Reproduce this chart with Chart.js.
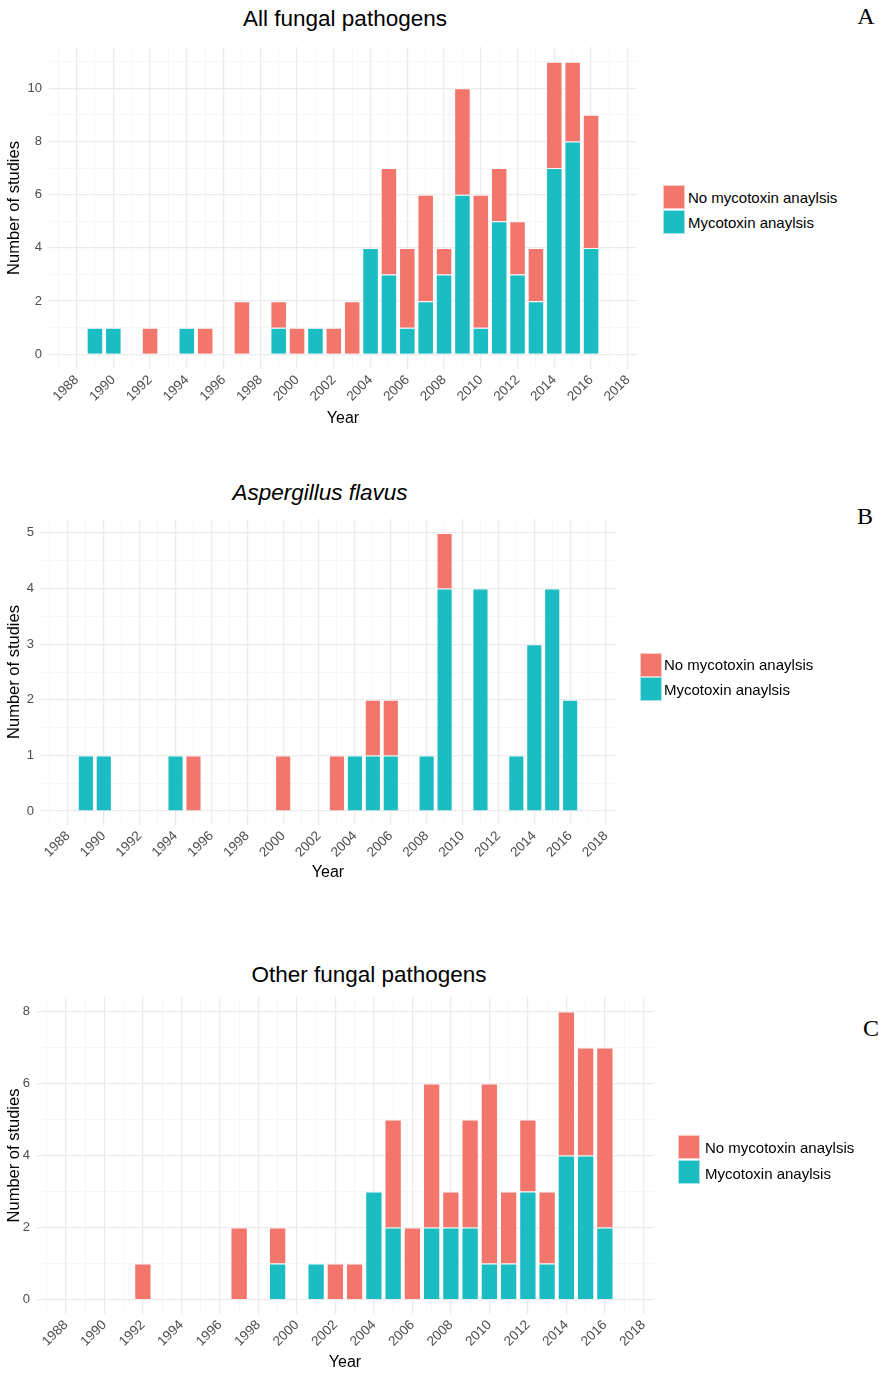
<!DOCTYPE html>
<html>
<head>
<meta charset="utf-8">
<script src="https://cdn.jsdelivr.net/npm/chart.js@4.4.1/dist/chart.umd.min.js"></script>
<style>
  body { margin: 0; background: #fff; }
  #page { position: relative; width: 883px; height: 1373px; background: #fff; font-family: "Liberation Sans", Arial, sans-serif; }
  canvas { position: absolute; left: 0; }
  .title { position: absolute; font-size: 22.5px; color: #000; white-space: nowrap; transform: translate(-50%, -50%); }
  .letter { position: absolute; font-family: "Liberation Serif", "DejaVu Serif", serif; font-size: 24px; color: #000; transform: translate(-50%, -50%); }
  .key { position: absolute; width: 22px; height: 24px; box-sizing: border-box; border: 1px solid rgba(255,255,255,0.6); }
  .keytext { position: absolute; font-size: 15px; color: #000; white-space: nowrap; transform: translateY(-50%); }
</style>
</head>
<body>
<div id="page">
  <div class="title" style="left:345px; top:19px;">All fungal pathogens</div>
  <div class="letter" style="left:866px; top:16px;">A</div>
  <canvas id="chartA" width="660" height="432" style="top:0px;"></canvas>
  <div class="key" style="left:663px; top:185px; background:#F2766C;"></div>
  <div class="key" style="left:663px; top:210px; background:#1BBCC2;"></div>
  <div class="keytext" style="left:688px; top:197px;">No mycotoxin anaylsis</div>
  <div class="keytext" style="left:688px; top:222px;">Mycotoxin anaylsis</div>

  <div class="title" style="left:320px; top:493px; font-style:italic;">Aspergillus flavus</div>
  <div class="letter" style="left:865px; top:516px;">B</div>
  <canvas id="chartB" width="660" height="416" style="top:470px;"></canvas>
  <div class="key" style="left:640px; top:653px; background:#F2766C;"></div>
  <div class="key" style="left:640px; top:677px; background:#1BBCC2;"></div>
  <div class="keytext" style="left:664px; top:664px;">No mycotoxin anaylsis</div>
  <div class="keytext" style="left:664px; top:689px;">Mycotoxin anaylsis</div>

  <div class="title" style="left:369px; top:975px;">Other fungal pathogens</div>
  <div class="letter" style="left:871px; top:1028px;">C</div>
  <canvas id="chartC" width="680" height="423" style="top:950px;"></canvas>
  <div class="key" style="left:678px; top:1135px; background:#F2766C;"></div>
  <div class="key" style="left:678px; top:1160px; background:#1BBCC2;"></div>
  <div class="keytext" style="left:705px; top:1147px;">No mycotoxin anaylsis</div>
  <div class="keytext" style="left:705px; top:1173px;">Mycotoxin anaylsis</div>
</div>
<script>
// ==================== DATA ====================
const years = [1989, 1990, 1991, 1992, 1993, 1994, 1995, 1996, 1997, 1998, 1999, 2000, 2001, 2002,
               2003, 2004, 2005, 2006, 2007, 2008, 2009, 2010, 2011, 2012, 2013, 2014, 2015, 2016];

// A - all fungal pathogens
const allMyco   = [1, 1, 0, 0, 0, 1, 0, 0, 0, 0, 1, 0, 1, 0, 0, 4, 3, 1, 2, 3, 6, 1, 5, 3, 2, 7, 8, 4];
const allNoMyco = [0, 0, 0, 1, 0, 0, 1, 0, 2, 0, 1, 1, 0, 1, 2, 0, 4, 3, 4, 1, 4, 5, 2, 2, 2, 4, 3, 5];

// B - Aspergillus flavus
const flavusMyco   = [1, 1, 0, 0, 0, 1, 0, 0, 0, 0, 0, 0, 0, 0, 0, 1, 1, 1, 0, 1, 4, 0, 4, 0, 1, 3, 4, 2];
const flavusNoMyco = [0, 0, 0, 0, 0, 0, 1, 0, 0, 0, 0, 1, 0, 0, 1, 0, 1, 1, 0, 0, 1, 0, 0, 0, 0, 0, 0, 0];

// C - other fungal pathogens
const otherMyco   = [0, 0, 0, 0, 0, 0, 0, 0, 0, 0, 1, 0, 1, 0, 0, 3, 2, 0, 2, 2, 2, 1, 1, 3, 1, 4, 4, 2];
const otherNoMyco = [0, 0, 0, 1, 0, 0, 0, 0, 2, 0, 1, 0, 0, 1, 1, 0, 3, 2, 4, 1, 3, 5, 2, 2, 2, 4, 3, 5];

// tick labels
const xMajor = [1988, 1990, 1992, 1994, 1996, 1998, 2000, 2002, 2004, 2006, 2008, 2010, 2012, 2014, 2016, 2018];
const xMinor = [1987, 1989, 1991, 1993, 1995, 1997, 1999, 2001, 2003, 2005, 2007, 2009, 2011, 2013, 2015, 2017];
const yMajorA = [0, 2, 4, 6, 8, 10];
const yMinorA = [1, 3, 5, 7, 9, 11];
const yMajorB = [0, 1, 2, 3, 4, 5];
const yMinorB = [0.5, 1.5, 2.5, 3.5, 4.5];
const yMajorC = [0, 2, 4, 6, 8];
const yMinorC = [1, 3, 5, 7];

const RED = '#F2766C';
const TEAL = '#1BBCC2';

// ==================== CHART BUILDER ====================
function toPoints(vals) {
    return years.map((yr, i) => ({ x: yr, y: vals[i] > 0 ? vals[i] : null }));
}

function makeChart(id, myco, noMyco, opts) {
    const canvas = document.getElementById(id);
    const yMajor = opts.yMajor, yMinor = opts.yMinor;
    const isMajor = (list, ctx) => !!(ctx.tick && list.includes(ctx.tick.value));
    const gridColor = (list) => (ctx) => isMajor(list, ctx) ? '#ebebeb' : '#f4f4f4';
    const gridWidth = (list) => (ctx) => isMajor(list, ctx) ? 1.3 : 0.8;

    return new Chart(canvas.getContext('2d'), {
        type: 'bar',
        data: {
            datasets: [
                { label: 'Mycotoxin anaylsis', data: toPoints(myco), backgroundColor: TEAL,
                  borderColor: 'rgba(255,255,255,0.55)', borderWidth: 1 },
                { label: 'No mycotoxin anaylsis', data: toPoints(noMyco), backgroundColor: RED,
                  borderColor: 'rgba(255,255,255,0.55)', borderWidth: 1 }
            ]
        },
        options: {
            responsive: false,
            animation: false,
            layout: { padding: { top: opts.top, right: canvas.width - opts.right, left: 0, bottom: 0 } },
            datasets: { bar: { barPercentage: 0.9, categoryPercentage: 1 } },
            plugins: { legend: { display: false }, title: { display: false }, tooltip: { enabled: false } },
            scales: {
                x: {
                    type: 'linear', stacked: true, offset: false, min: 1986.5, max: 2018.5,
                    afterBuildTicks: (s) => { s.ticks = xMajor.concat(xMinor).sort((a, b) => a - b).map(v => ({ value: v })); },
                    afterFit: (s) => { s.height = canvas.height - opts.bottom; },
                    ticks: {
                        autoSkip: false, minRotation: 45, maxRotation: 45, padding: 3,
                        color: '#4d4d4d', font: { family: 'Liberation Sans', size: 13.5 },
                        callback: (v) => xMajor.includes(v) ? String(v) : ''
                    },
                    grid: { offset: false, drawTicks: false, color: gridColor(xMajor), lineWidth: gridWidth(xMajor) },
                    border: { display: false },
                    title: { display: true, text: 'Year', color: '#000', font: { family: 'Liberation Sans', size: 16 },
                             padding: { top: 2, bottom: opts.titlePad } }
                },
                y: {
                    type: 'linear', stacked: true, min: opts.yMin, max: opts.yMax,
                    afterBuildTicks: (s) => { s.ticks = yMajor.concat(yMinor).sort((a, b) => a - b).map(v => ({ value: v })); },
                    afterFit: (s) => { s.width = opts.left; },
                    ticks: {
                        padding: 7, color: '#4d4d4d', font: { family: 'Liberation Sans', size: 13 },
                        callback: (v) => yMajor.includes(v) ? String(v) : ''
                    },
                    grid: { drawTicks: false, color: gridColor(yMajor), lineWidth: gridWidth(yMajor) },
                    border: { display: false },
                    title: { display: true, text: 'Number of studies', color: '#000', font: { family: 'Liberation Sans', size: 16.5 },
                             padding: { top: 5, bottom: 2 } }
                }
            }
        }
    });
}

// ==================== DRAW ====================
makeChart('chartA', allMyco, allNoMyco, {
    left: 49, right: 637, top: 47, bottom: 369, titlePad: 4,
    yMin: -0.55, yMax: 11.55, yMajor: yMajorA, yMinor: yMinorA
});
makeChart('chartB', flavusMyco, flavusNoMyco, {
    left: 41, right: 615, top: 49, bottom: 355, titlePad: 4,
    yMin: -0.25, yMax: 5.25, yMajor: yMajorB, yMinor: yMinorB
});
makeChart('chartC', otherMyco, otherNoMyco, {
    left: 37, right: 653, top: 47, bottom: 364, titlePad: 1,
    yMin: -0.4, yMax: 8.4, yMajor: yMajorC, yMinor: yMinorC
});
</script>
</body>
</html>
